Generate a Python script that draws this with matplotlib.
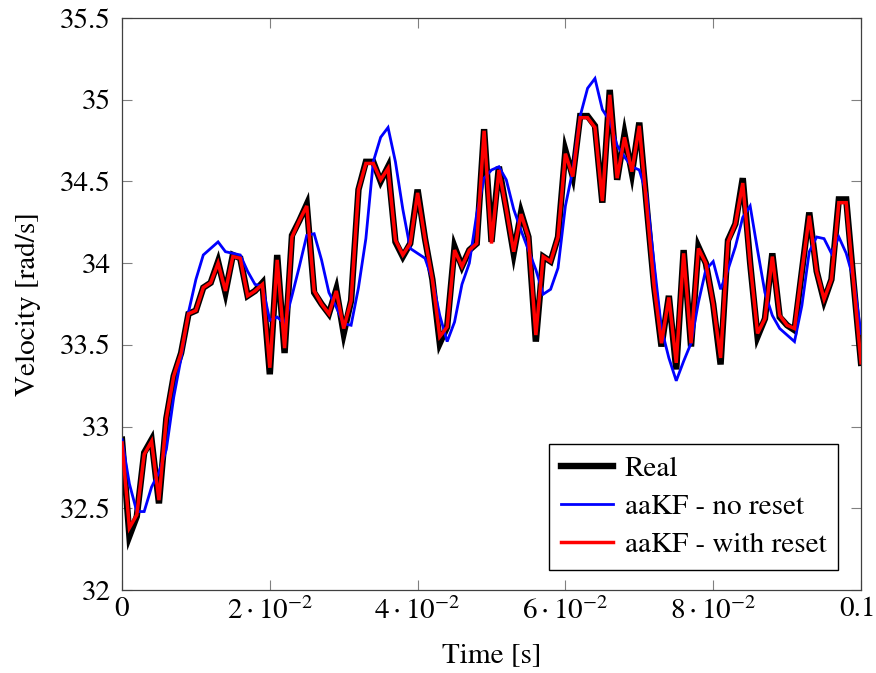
import numpy as np
import matplotlib
matplotlib.use("Agg")
import matplotlib.pyplot as plt
from matplotlib.transforms import ScaledTranslation

# ---- data ----
time_s = np.linspace(0.0, 0.1, 101)

real = [32.92, 32.33, 32.45, 32.84, 32.92, 32.53, 33.05, 33.31, 33.45, 33.69,
        33.71, 33.85, 33.88, 34.01, 33.82, 34.05, 34.03, 33.80, 33.83, 33.88,
        33.32, 34.05, 33.45, 34.17, 34.26, 34.36, 33.82, 33.75, 33.69, 33.84,
        33.57, 33.77, 34.45, 34.62, 34.62, 34.50, 34.59, 34.13, 34.04, 34.12,
        34.45, 34.15, 33.90, 33.51, 33.61, 34.10, 33.98, 34.08, 34.12, 34.82,
        34.13, 34.59, 34.33, 34.06, 34.31, 34.16, 33.52, 34.04, 34.01, 34.16,
        34.69, 34.53, 34.90, 34.90, 34.84, 34.37, 35.06, 34.51, 34.79, 34.55,
        34.86, 34.35, 33.86, 33.49, 33.80, 33.35, 34.08, 33.49, 34.10, 34.00,
        33.75, 33.38, 34.14, 34.24, 34.52, 34.00, 33.55, 33.66, 34.06, 33.67,
        33.62, 33.59, 33.95, 34.31, 33.95, 33.77, 33.90, 34.39, 34.39, 33.88,
        33.39]

no_reset = [32.92, 32.65, 32.48, 32.48, 32.63, 32.72, 32.86, 33.18, 33.42, 33.70,
            33.90, 34.05, 34.09, 34.13, 34.07, 34.06, 34.05, 33.95, 33.87, 33.86,
            33.65, 33.67, 33.63, 33.80, 33.98, 34.17, 34.18, 34.02, 33.82, 33.73,
            33.63, 33.62, 33.85, 34.15, 34.62, 34.77, 34.83, 34.62, 34.33, 34.09,
            34.06, 34.03, 33.90, 33.68, 33.52, 33.64, 33.87, 34.00, 34.30, 34.52,
            34.57, 34.59, 34.51, 34.33, 34.20, 34.08, 33.96, 33.81, 33.84, 33.97,
            34.35, 34.57, 34.90, 35.07, 35.13, 34.94, 34.87, 34.72, 34.65, 34.59,
            34.57, 34.42, 34.00, 33.60, 33.42, 33.28, 33.40, 33.51, 33.76, 33.96,
            34.01, 33.84, 33.96, 34.10, 34.28, 34.35, 34.08, 33.82, 33.68, 33.60,
            33.56, 33.52, 33.74, 34.07, 34.16, 34.15, 34.06, 34.16, 34.06, 33.90,
            33.57]

with_reset = [32.90, 32.38, 32.46, 32.83, 32.91, 32.55, 33.05, 33.31, 33.45, 33.69,
              33.71, 33.85, 33.88, 34.00, 33.83, 34.04, 34.03, 33.80, 33.83, 33.87,
              33.36, 34.02, 33.48, 34.16, 34.26, 34.35, 33.83, 33.75, 33.69, 33.83,
              33.60, 33.77, 34.45, 34.61, 34.61, 34.51, 34.58, 34.14, 34.05, 34.12,
              34.43, 34.15, 33.90, 33.55, 33.61, 34.08, 33.98, 34.08, 34.12, 34.81,
              34.12, 34.57, 34.33, 34.07, 34.30, 34.16, 33.56, 34.04, 34.01, 34.16,
              34.67, 34.53, 34.89, 34.89, 34.83, 34.38, 35.03, 34.52, 34.77, 34.56,
              34.84, 34.35, 33.86, 33.51, 33.79, 33.39, 34.06, 33.51, 34.09, 34.00,
              33.75, 33.42, 34.13, 34.24, 34.49, 34.00, 33.57, 33.66, 34.04, 33.68,
              33.62, 33.60, 33.95, 34.29, 33.95, 33.78, 33.90, 34.37, 34.37, 33.88,
              33.39]

series_labels = ["Real", "aaKF - no reset", "aaKF - with reset"]
xtick_values = [0.0, 0.02, 0.04, 0.06, 0.08, 0.1]
xtick_labels = ["0", r"$2\cdot10^{-2}$", r"$4\cdot10^{-2}$", r"$6\cdot10^{-2}$",
                r"$8\cdot10^{-2}$", "0.1"]
ytick_values = [32, 32.5, 33, 33.5, 34, 34.5, 35, 35.5]
ytick_labels = ["32", "32.5", "33", "33.5", "34", "34.5", "35", "35.5"]

# ---- style ----
plt.rcParams["font.family"] = ["STIXGeneral", "DejaVu Serif"]
plt.rcParams["mathtext.fontset"] = "stix"
FS = 21

fig = plt.figure(figsize=(8.76, 6.73), dpi=100)
ax = fig.add_axes([122 / 876, 1 - 590 / 673, (861 - 122) / 876, (590 - 18) / 673])

ax.plot(time_s, real, color="black", lw=4.6, solid_joinstyle="miter",
        label=series_labels[0], zorder=2)
ax.plot(time_s, no_reset, color="#0000ff", lw=2.0, solid_joinstyle="miter",
        label=series_labels[1], zorder=3)
ax.plot(time_s, with_reset, color="#ff0000", lw=2.5, solid_joinstyle="miter",
        label=series_labels[2], zorder=4)

ax.set_xlim(0, 0.1)
ax.set_ylim(32, 35.5)
ax.set_xticks(xtick_values)
ax.set_xticklabels(xtick_labels)
ax.set_yticks(ytick_values)
ax.set_yticklabels(ytick_labels)
ax.tick_params(axis="both", which="major", direction="in", length=7,
               width=0.8, color="#808080", labelsize=FS,
               top=True, right=True)
ax.tick_params(axis="y", pad=8)
ax.tick_params(axis="x", pad=5)
for sp in ax.spines.values():
    sp.set_color("#404040")
    sp.set_linewidth(0.9)

# keep the last x tick label inside the figure
last = ax.get_xticklabels()[-1]
last.set_transform(last.get_transform() + ScaledTranslation(-4 / 100, 0, fig.dpi_scale_trans))

ax.set_xlabel("Time [s]", fontsize=FS, labelpad=13)
ax.set_ylabel("Velocity [rad/s]", fontsize=FS, labelpad=14)

leg = ax.legend(loc="lower right", bbox_to_anchor=(0.969, 0.035),
                fontsize=FS, frameon=True, fancybox=False, framealpha=1,
                edgecolor="black", handlelength=1.8, labelspacing=0.4,
                borderpad=0.4, handletextpad=0.4, borderaxespad=0)
leg.get_frame().set_linewidth(1.0)

fig.savefig("out.png", dpi=100)
